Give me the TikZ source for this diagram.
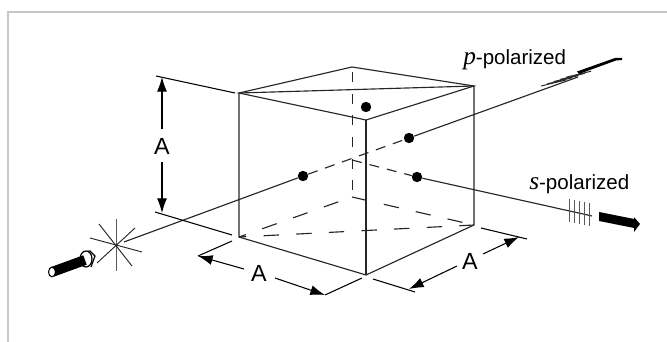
\documentclass[tikz,border=0pt]{standalone}
\usepackage{fontspec}
\setmainfont{Liberation Sans}
\newfontfamily\polfont[Ligatures=TeX]{Liberation Serif}
\usetikzlibrary{arrows.meta, calc}
\tikzset{
  edge/.style={line width=0.85pt, black!85},
  hidden/.style={edge, dash pattern=on 11.5pt off 13pt},
  beamdash/.style={edge, dash pattern=on 7.5pt off 6pt},
  dimline/.style={line width=0.8pt, -{Latex[length=11pt,width=7.5pt]}},
  ext/.style={line width=0.8pt},
  tick/.style={line width=0.7pt, black!65},
  spot/.style={circle, fill=black, inner sep=0pt, minimum size=7.8pt},
  dimtext/.style={font=\fontsize{17.5pt}{18pt}\selectfont, inner sep=0pt},
  poltext/.style={font=\fontsize{15.4pt}{18pt}\selectfont, inner sep=0pt, anchor=base west}
}
\begin{document}
\begin{tikzpicture}[x=0.75pt, y=-0.75pt]
\useasboundingbox (0,0) rectangle (667,342);
% frame
\draw[black!22, line width=1.3pt] (8,342) -- (8,12) -- (667,12);
% cube corners
\coordinate (topleft) at (239,93);
\coordinate (topback) at (352,67);
\coordinate (topright) at (474,86);
\coordinate (topfront) at (366,120);
\coordinate (botleft) at (239,237);
\coordinate (botback) at (352,197);
\coordinate (botright) at (474,225);
\coordinate (botfront) at (366,275);
% hidden edges
\draw[edge, line width=0.7pt, dash pattern=on 7.5pt off 8.75pt, dash phase=12.5pt] (topback) -- (botback);
\draw[hidden, dash phase=6pt] (botleft) -- (botback);
\draw[hidden] (botback) -- (botright);
\draw[hidden, dash phase=6pt] (botleft) -- (botright);
% visible edges
\draw[edge] (topleft) -- (topback) -- (topright) -- (topfront) -- cycle;
\draw[edge] (topleft) -- (topright);
\draw[edge] (topleft) -- (botleft) -- (botfront) -- (botright) -- (topright);
\draw[edge] (topfront) -- (botfront);
% beams
\node[spot] (spotin) at (303,176) {};
\node[spot] (spotp) at (409,138) {};
\node[spot] (spots) at (417,177) {};
\node[spot] (spottop) at (366,107) {};
\coordinate (split) at (352,160);
\coordinate (starin) at (124,242);
\coordinate (pend) at (578,77);
\coordinate (send) at (592,216);
\draw[edge] (starin) -- (spotin);
\draw[edge] (spotp) -- (pend);
\draw[edge] (spots) -- (send);
\draw[beamdash] (spotin) -- (spotp);
\draw[beamdash] (split) -- (spots);
% source star
\draw[tick] (116,219) -- (116,271);
\draw[tick, black!85] (90,238) -- (142,252);
\draw[tick, black!85] (97,263) -- (135,228);
\draw[tick, black!85] (99,224) -- (132,266);
% incoming beam
\draw[line width=0.9pt] (83,252) -- (90,251) -- (95,256) -- (91,267);
\draw[line width=0.9pt, fill=white] (86,259) ellipse (4.5pt and 6pt);
\draw[black, line width=7.5pt] (52,272) -- (85,260);
\draw[fill=white, line width=0.8pt] (52,272) ellipse (2.6pt and 3.6pt);
% p-polarized beam
\foreach \k in {0,1,2,3,4}
  \draw[tick, black!85] ($(541,86)+(\k*6.3,-\k*2.2)$) -- ++(25,-6);
\fill (577,71.5) -- (615,58) -- (622,58) -- (622,60) -- (616,60.5) -- (579,74) -- cycle;
% s-polarized beam
\foreach \k in {0,1,2,3,4}
  \draw[tick] ($(569,199)+(\k*5,\k*0.9)$) -- ++(0,23);
\fill (599,212) -- (634,219) -- (634,217) -- (640,224) -- (634,232) -- (634,228) -- (599,221) -- cycle;
% dimensions
\coordinate (dimtop) at (162,77);
\coordinate (dimbot) at (162,213);
\node[dimtext] (dimA) at (162,146.5) {A};
\draw[ext] (156,76) -- (235,93);
\draw[ext] (155,212) -- (232,235);
\draw[dimline] (162,129) -- (dimtop);
\draw[dimline] (162,162) -- (dimbot);
\coordinate (frontl) at (198,256);
\coordinate (frontr) at (325,295);
\node[dimtext] (dimB) at (259,273) {A};
\draw[ext] (232,241) -- (frontl);
\draw[ext] (362,278) -- (325,295);
\draw[dimline] (244,269) -- (frontl);
\draw[dimline] (275,278) -- (frontr);
\coordinate (sidel) at (409,289);
\coordinate (sider) at (519,237);
\node[dimtext] (dimC) at (470,261) {A};
\draw[ext] (373,279) -- (415,292);
\draw[ext] (481,228) -- (527,239);
\draw[dimline] (457,266) -- (sidel);
\draw[dimline] (483,254) -- (sider);
% labels
\node[poltext] (plabel) at (463,64.5) {{\fontsize{19pt}{20pt}\polfont\itshape p}-polarized};
\node[poltext] (slabel) at (529,190) {{\fontsize{19pt}{20pt}\polfont\itshape s}-polarized};
\end{tikzpicture}
\end{document}
